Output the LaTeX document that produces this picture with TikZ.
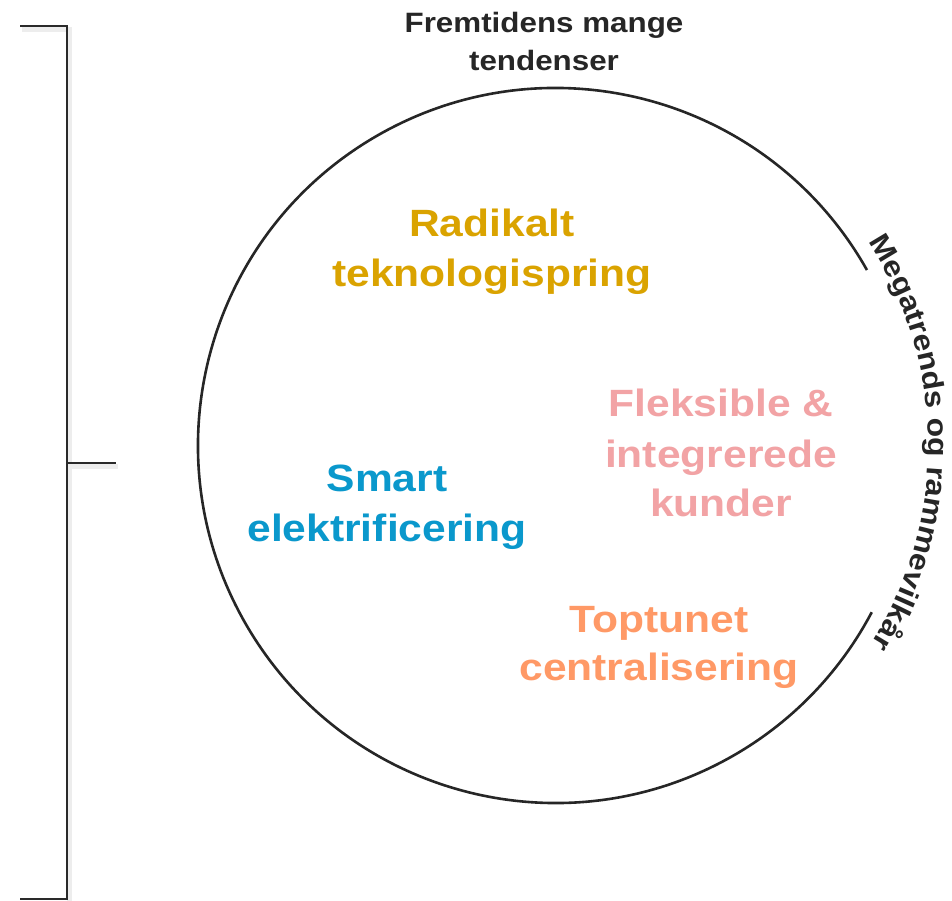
\documentclass[tikz,border=0pt]{standalone}
\usepackage{fontspec}
\setmainfont{Liberation Sans}[FakeStretch=1.12]
\usetikzlibrary{decorations.text}
\definecolor{txtdark}{HTML}{262626}
\definecolor{linedark}{HTML}{2A2A2A}
\definecolor{gold}{HTML}{DAA300}
\definecolor{smartblue}{HTML}{0A98CC}
\definecolor{pinkish}{HTML}{F2A3A5}
\definecolor{orangeish}{HTML}{FF9966}
\begin{document}
\begin{tikzpicture}[x=1pt,y=1pt,
  bracket/.style={draw=linedark, line width=2.4pt},
  shadowline/.style={draw=black!7, line width=5pt},
  titletext/.style={font=\bfseries\fontsize{28}{34}\selectfont, text=txtdark, anchor=base, inner sep=0pt},
  theme/.style={font=\bfseries\fontsize{38}{46}\selectfont, anchor=base, inner sep=0pt},
  ring/.style={draw=txtdark, line width=2.6pt}
]
\useasboundingbox (0,0) rectangle (952,900);
\fill[white] (0,0) rectangle (952,900);

% bracket
\coordinate (bt) at (20,874);
\coordinate (bc) at (67,874);
\coordinate (bm) at (67,437);
\coordinate (bmt) at (116,437);
\coordinate (bb) at (67,1);
\coordinate (bbl) at (20,1);
\draw[shadowline] ([shift={(2,-4)}]bt) -- ([shift={(2,-4)}]bc) -- ([shift={(2,-4)}]bb);
\draw[shadowline] ([shift={(2,-4)}]bm) -- ([shift={(2,-4)}]bmt);
\draw[bracket] (bt) -- (bc) -- (bb) -- (bbl);
\draw[bracket] (bm) -- (bmt);

% circle
\coordinate (c) at (555.5,454.5);
\draw[ring] (c) ++(29.4:357.5) arc[start angle=29.4, end angle=332.2, radius=357.5];

% curved text
\path[decorate, decoration={text along path, text align=center,
  text={|\bfseries\fontsize{28.5}{28.5}\selectfont\color{txtdark}|Megatrends og rammevilkår}}]
  (c) ++(38.5:373) arc[start angle=38.5, end angle=-37.5, radius=373];

% title
\node[titletext] (title1) at (544,867) {Fremtidens mange};
\node[titletext] (title2) at (544,829) {tendenser};

% themes
\node[theme, text=gold] (rad1) at (492,663) {Radikalt};
\node[theme, text=gold] (rad2) at (492,613) {teknologispring};

\node[theme, text=smartblue] (sm1) at (387,408) {Smart};
\node[theme, text=smartblue] (sm2) at (387,358) {elektrificering};

\node[theme, text=pinkish] (fl1) at (721,483) {Fleksible \&};
\node[theme, text=pinkish] (fl2) at (721,432) {integrerede};
\node[theme, text=pinkish] (fl3) at (721,383) {kunder};

\node[theme, text=orangeish] (tp1) at (659,268) {Toptunet};
\node[theme, text=orangeish] (tp2) at (659,220) {centralisering};
\end{tikzpicture}
\end{document}
